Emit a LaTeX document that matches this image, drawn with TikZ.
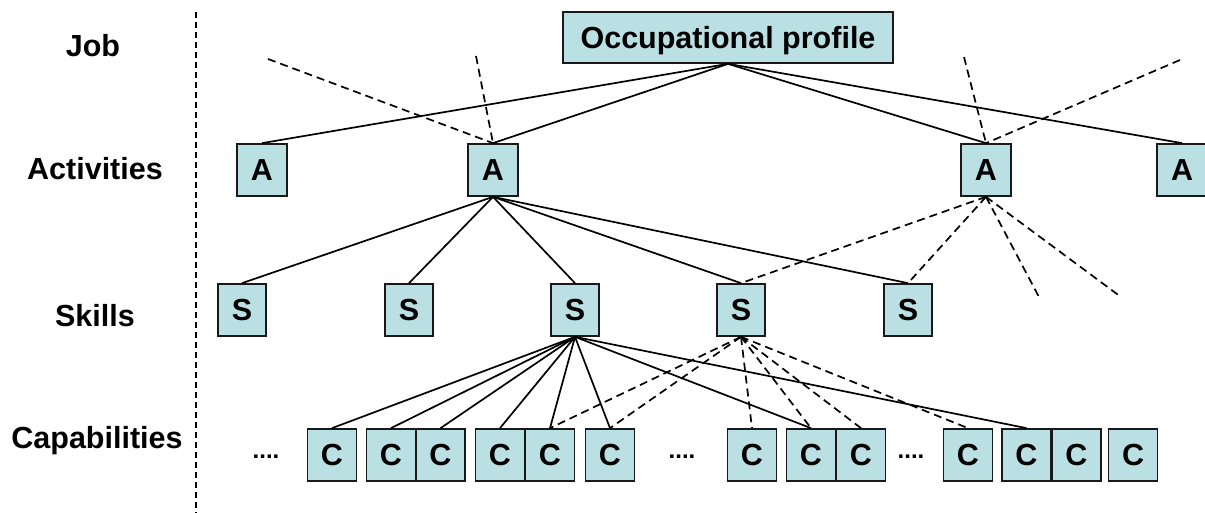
\documentclass[tikz,border=0pt]{standalone}
\usepackage{fontspec}
\setmainfont{Liberation Sans}
\definecolor{boxfill}{RGB}{186,224,228}
\definecolor{boxline}{RGB}{25,25,25}
\begin{document}
\begin{tikzpicture}[x=1pt,y=-1pt,
  font=\fontsize{30.5}{36}\selectfont\bfseries,
  box/.style={draw=boxline, line width=1.7pt, fill=boxfill, minimum width=49pt, minimum height=52pt, inner sep=0pt, text depth=0pt},
  lbl/.style={anchor=base},
  conn/.style={line width=1.7pt},
  dconn/.style={line width=1.7pt, dash pattern=on 8pt off 5pt},
  sep/.style={line width=1.3pt, dash pattern=on 6pt off 4pt}]
\useasboundingbox (0,0) rectangle (1205,513);

% level labels
\node[lbl] (ljob) at (93,57) {Job};
\node[lbl] (lact) at (95,180) {Activities};
\node[lbl] (lskl) at (95,326) {Skills};
\node[lbl] (lcap) at (97,448) {Capabilities};

% separator
\coordinate (septop) at (196,12);
\coordinate (sepbot) at (196,513);
\draw[sep] (septop) -- (sepbot);

% free ends of dashed lines
\coordinate (f1) at (268,59);
\coordinate (f2) at (476,56);
\coordinate (f3) at (964,57);
\coordinate (f4) at (1180,60);
\coordinate (f5) at (1039,297);
\coordinate (f6) at (1121,297);

% nodes
\node[box, minimum width=330pt, minimum height=51pt] (op) at (728,37.5) {Occupational profile};

\node[box, minimum width=50pt] (a1) at (262,170) {A};
\node[box, minimum width=50pt] (a2) at (493,170) {A};
\node[box, minimum width=50pt] (a3) at (986,170) {A};
\node[box, minimum width=50pt] (a4) at (1182,170) {A};

\node[box, minimum width=48pt] (s1) at (242,310) {S};
\node[box, minimum width=48pt] (s2) at (409,310) {S};
\node[box, minimum width=48pt] (s3) at (575,310) {S};
\node[box, minimum width=48pt] (s4) at (741,310) {S};
\node[box, minimum width=48pt] (s5) at (908,310) {S};

\node[box] (c1) at (332,455) {C};
\node[box] (c2) at (391,455) {C};
\node[box] (c3) at (440.5,455) {C};
\node[box] (c4) at (500,455) {C};
\node[box] (c5) at (550,455) {C};
\node[box] (c6) at (610,455) {C};
\node[box] (c7) at (752,455) {C};
\node[box] (c8) at (811,455) {C};
\node[box] (c9) at (861,455) {C};
\node[box] (c10) at (968,455) {C};
\node[box] (c11) at (1026.5,455) {C};
\node[box] (c12) at (1076.5,455) {C};
\node[box] (c13) at (1133,455) {C};

% ellipses
\node[anchor=base, font=\fontsize{24}{28}\selectfont\bfseries] (d1) at (266,458) {....};
\node[anchor=base, font=\fontsize{24}{28}\selectfont\bfseries] (d2) at (682,458) {....};
\node[anchor=base, font=\fontsize{24}{28}\selectfont\bfseries] (d3) at (911,458) {....};

% job -> activities
\foreach \a in {a1,a2,a3,a4} \draw[conn] (op.south) -- (\a.north);
\draw[dconn] (f1) -- (a2.north);
\draw[dconn] (f2) -- (a2.north);
\draw[dconn] (f3) -- (a3.north);
\draw[dconn] (f4) -- (a3.north);

% activities -> skills
\foreach \s in {s1,s2,s3,s4,s5} \draw[conn] (a2.south) -- (\s.north);
\draw[dconn] (a3.south) -- (s4.north);
\draw[dconn] (a3.south) -- (s5.north);
\draw[dconn] (a3.south) -- (f5);
\draw[dconn] (a3.south) -- (f6);

% skills -> capabilities
\foreach \c in {c1,c2,c3,c4,c5,c6,c8,c11} \draw[conn] (s3.south) -- (\c.north);
\foreach \c in {c5,c6,c7,c8,c9,c10} \draw[dconn] (s4.south) -- (\c.north);
\end{tikzpicture}
\end{document}
